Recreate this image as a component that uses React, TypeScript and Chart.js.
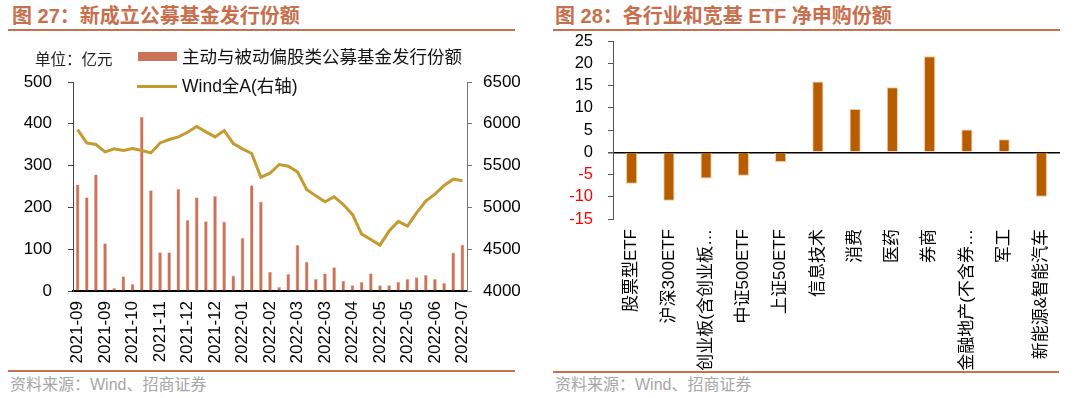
import React, { useEffect, useRef } from "react";
import { Chart, registerables } from "chart.js";
Chart.register(...registerables);

const FONT = '"Liberation Sans", Arial, "Noto Sans CJK SC", sans-serif';
Chart.defaults.font.family = FONT;

// ---- Figure 27 data (weekly) ----
const weekMonths = [
  "2021-09", "2021-09", "2021-09", "2021-09", "2021-10", "2021-10", "2021-10", "2021-10",
  "2021-11", "2021-11", "2021-11", "2021-11", "2021-12", "2021-12", "2021-12", "2021-12",
  "2022-01", "2022-01", "2022-01", "2022-01", "2022-02", "2022-02", "2022-02", "2022-03",
  "2022-03", "2022-03", "2022-03", "2022-03", "2022-04", "2022-04", "2022-04", "2022-04",
  "2022-05", "2022-05", "2022-05", "2022-05", "2022-05", "2022-06", "2022-06", "2022-06",
  "2022-06", "2022-07", "2022-07",
];
const fundIssuance = [
  255, 224, 279, 114, 7, 35, 17, 417, 241, 93, 93, 244, 170, 224, 167, 227, 166, 37, 127, 253,
  214, 46, 10, 41, 110, 70, 29, 42, 57, 24, 14, 22, 42, 14, 14, 22, 29, 33, 38, 29, 19, 92, 111,
];
const windA = [
  5931, 5771, 5752, 5664, 5700, 5680, 5704, 5680, 5652, 5771, 5812, 5843, 5899, 5967, 5903,
  5843, 5919, 5764, 5700, 5645, 5362, 5410, 5513, 5493, 5425, 5215, 5138, 5067, 5127, 5035,
  4916, 4681, 4617, 4549, 4717, 4832, 4776, 4935, 5075, 5159, 5263, 5338, 5318,
];
const leftTicks = [0, 100, 200, 300, 400, 500];
const rightTicks = [4000, 4500, 5000, 5500, 6000, 6500];

// ---- Figure 28 data ----
const etfCategories = [
  "股票型ETF", "沪深300ETF", "创业板(含创业板…", "中证500ETF", "上证50ETF", "信息技术",
  "消费", "医药", "券商", "金融地产(不含券…", "军工", "新能源&智能汽车",
];
const etfNet = [-7.1, -10.9, -5.9, -5.3, -2.2, 15.9, 9.7, 14.6, 21.6, 5.1, 2.9, -10.0];
const etfTicks = [-15, -10, -5, 0, 5, 10, 15, 20, 25];

const BAR1 = "#CC7258";
const LINE1 = "#C39B30";
const BAR2 = "#B85C00";
const ACCENT = "#C8704E";

export default function App() {
  const leftRef = useRef<HTMLCanvasElement>(null);
  const rightRef = useRef<HTMLCanvasElement>(null);

  useEffect(() => {
    const c1 = new Chart(leftRef.current as HTMLCanvasElement, {
      type: "bar",
      data: {
        labels: weekMonths,
        datasets: [
          {
            type: "line",
            label: "Wind全A(右轴)",
            data: windA,
            yAxisID: "y1",
            borderColor: LINE1,
            borderWidth: 3,
            pointRadius: 0,
            tension: 0,
            order: 0,
          } as any,
          {
            type: "bar",
            label: "主动与被动偏股类公募基金发行份额",
            data: fundIssuance,
            yAxisID: "y",
            backgroundColor: BAR1,
            borderColor: "#EBB8A6",
            borderWidth: 0.6,
            barPercentage: 0.42,
            categoryPercentage: 1,
            order: 1,
          },
        ],
      },
      options: {
        responsive: false,
        animation: false,
        layout: { padding: { top: 82, left: 0, right: 0, bottom: 0 } },
        plugins: { legend: { display: false }, tooltip: { enabled: false } },
        scales: {
          x: {
            grid: { display: false, drawTicks: false },
            border: { display: true, color: "#000", width: 2 },
            ticks: {
              autoSkip: false,
              minRotation: 90,
              maxRotation: 90,
              padding: 10,
              color: "#000",
              font: { size: 17 },
              callback: (_v: any, i: number) => (i % 3 === 0 ? weekMonths[i] : ""),
            },
            afterFit: (s: any) => { s.height = 107; },
          },
          y: {
            position: "left",
            min: leftTicks[0],
            max: leftTicks[leftTicks.length - 1],
            afterBuildTicks: (s: any) => { s.ticks = leftTicks.map((v) => ({ value: v })); },
            ticks: { autoSkip: false, color: "#000", font: { size: 17 }, padding: 16, callback: (v: any) => String(v) },
            grid: { display: true, drawOnChartArea: false, drawTicks: true, tickLength: 5, tickColor: "#444" },
            border: { color: "#444", width: 1 },
            afterFit: (s: any) => { s.width = 73; },
          },
          y1: {
            position: "right",
            min: rightTicks[0],
            max: rightTicks[rightTicks.length - 1],
            afterBuildTicks: (s: any) => { s.ticks = rightTicks.map((v) => ({ value: v })); },
            ticks: { autoSkip: false, color: "#000", font: { size: 17 }, padding: 11, callback: (v: any) => String(v) },
            grid: { display: true, drawOnChartArea: false, drawTicks: true, tickLength: 5, tickColor: "#777" },
            border: { color: "#777", width: 1 },
            afterFit: (s: any) => { s.width = 73; },
          },
        },
      } as any,
    });

    const c2 = new Chart(rightRef.current as HTMLCanvasElement, {
      type: "bar",
      data: {
        labels: etfCategories,
        datasets: [
          {
            label: "净申购份额",
            data: etfNet,
            backgroundColor: BAR2,
            borderColor: "#F0C8A0",
            borderWidth: 1,
            barPercentage: 0.3,
            categoryPercentage: 1,
          },
        ],
      },
      options: {
        responsive: false,
        animation: false,
        layout: { padding: { top: 41, left: 0, right: 20, bottom: 0 } },
        plugins: { legend: { display: false }, tooltip: { enabled: false } },
        scales: {
          x: {
            grid: { display: false, drawTicks: false },
            border: { display: false },
            ticks: {
              autoSkip: false,
              minRotation: 90,
              maxRotation: 90,
              padding: 10,
              color: "#000",
              font: { size: 17 },
            },
            afterFit: (s: any) => { s.height = 179; },
          },
          y: {
            min: etfTicks[0],
            max: etfTicks[etfTicks.length - 1],
            afterBuildTicks: (s: any) => { s.ticks = etfTicks.map((v) => ({ value: v })); },
            ticks: {
              autoSkip: false,
              color: (ctx: any) => (ctx.tick && ctx.tick.value < 0 ? "#FF0000" : "#000"),
              font: { size: 16.5 },
              padding: 15,
              callback: (v: any) => String(v),
            },
            grid: {
              display: true,
              drawOnChartArea: true,
              drawTicks: true,
              tickLength: 5,
              color: (ctx: any) => (ctx.tick && ctx.tick.value === 0 ? "#000" : "rgba(0,0,0,0)"),
              lineWidth: (ctx: any) => (ctx.tick && ctx.tick.value === 0 ? 1.5 : 1),
              tickColor: "#555",
            },
            border: { color: "#555", width: 1 },
            afterFit: (s: any) => { s.width = 73; },
          },
        },
      } as any,
    });

    return () => {
      c1.destroy();
      c2.destroy();
    };
  }, []);

  const abs = (o: React.CSSProperties): React.CSSProperties => ({ position: "absolute", ...o });

  return (
    <div
      style={{
        position: "fixed",
        left: 0,
        top: 0,
        width: 1080,
        height: 398,
        background: "#fff",
        overflow: "hidden",
        fontFamily: FONT,
      }}
    >
      {/* Titles */}
      <div style={abs({ left: 12, top: 4, fontSize: 20, lineHeight: "24px", fontWeight: "bold", color: ACCENT, whiteSpace: "nowrap" })}>
        图 27：新成立公募基金发行份额
      </div>
      <div style={abs({ left: 555, top: 4, fontSize: 20, lineHeight: "24px", fontWeight: "bold", color: ACCENT, whiteSpace: "nowrap" })}>
        图 28：各行业和宽基 ETF 净申购份额
      </div>
      <div style={abs({ left: 8, top: 29, width: 507, height: 2, background: ACCENT })} />
      <div style={abs({ left: 553, top: 29, width: 507, height: 2, background: ACCENT })} />

      {/* Footer */}
      <div style={abs({ left: 8, top: 370, width: 507, height: 2, background: ACCENT })} />
      <div style={abs({ left: 553, top: 371, width: 506, height: 2, background: ACCENT })} />
      <div style={abs({ left: 10, top: 375, fontSize: 16, lineHeight: "20px", color: "#A6A6A6", whiteSpace: "nowrap" })}>
        资料来源：Wind、招商证券
      </div>
      <div style={abs({ left: 555, top: 375, fontSize: 16, lineHeight: "20px", color: "#A6A6A6", whiteSpace: "nowrap" })}>
        资料来源：Wind、招商证券
      </div>

      {/* Canvases */}
      <canvas ref={leftRef} width={540} height={398} style={abs({ left: 0, top: 0 })} />
      <canvas ref={rightRef} width={540} height={398} style={abs({ left: 540, top: 0 })} />

      {/* Left chart unit + legend */}
      <div style={abs({ left: 35, top: 50, fontSize: 15.5, lineHeight: "20px", color: "#222", whiteSpace: "nowrap" })}>
        单位：亿元
      </div>
      <div style={abs({ left: 138, top: 52, width: 39, height: 9, background: BAR1 })} />
      <div style={abs({ left: 182, top: 47, fontSize: 17.5, lineHeight: "21px", color: "#111", whiteSpace: "nowrap" })}>
        主动与被动偏股类公募基金发行份额
      </div>
      <div style={abs({ left: 137, top: 84.5, width: 40, height: 3, background: LINE1 })} />
      <div style={abs({ left: 182, top: 75.5, fontSize: 17.5, lineHeight: "21px", color: "#111", whiteSpace: "nowrap" })}>
        Wind全A(右轴)
      </div>
    </div>
  );
}
